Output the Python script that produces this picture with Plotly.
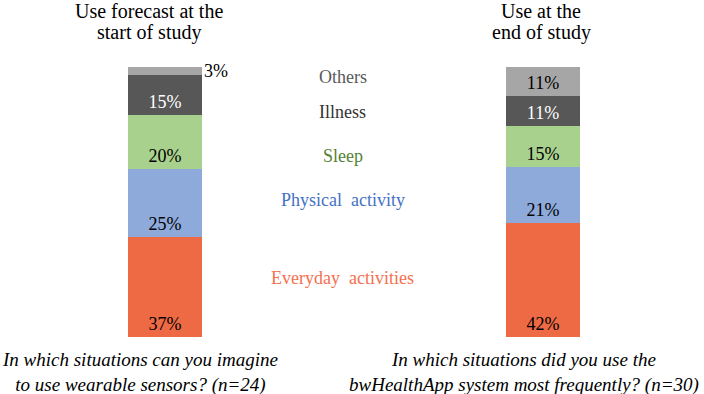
import plotly.graph_objects as go

categories = ["Everyday activities", "Physical activity", "Sleep", "Illness", "Others"]
start_values = [37, 25, 20, 15, 3]
end_values = [42, 21, 15, 11, 11]
bar_titles = [["Use forecast at the", "start of study"], ["Use at the", "end of study"]]
captions = ["In which situations can you imagine<br>to use wearable sensors? (n=24)",
            "In which situations did you use the<br>bwHealthApp system most frequently? (n=30)"]

bar_colors = ["#EE6A45", "#8EAADB", "#A9D18E", "#575757", "#A6A6A6"]
label_colors = ["#F4704F", "#4472C4", "#548235", "#333333", "#595959"]
pct_colors = ["black", "black", "black", "white", "black"]
FONT = "Liberation Serif"

fig = go.Figure()
for i, cat in enumerate(categories):
    vals = [start_values[i], end_values[i]]
    texts = [f"{v}%" if v >= 5 else "" for v in vals]
    fig.add_trace(go.Bar(
        x=[0, 1], y=vals, name=cat, width=0.196,
        marker=dict(color=bar_colors[i], line=dict(width=0)),
        text=texts, textposition="inside", insidetextanchor="start",
        textangle=0, constraintext="none",
        textfont=dict(family=FONT, size=18, color=pct_colors[i]),
        showlegend=False, hoverinfo="skip",
    ))

# small value label outside the left bar
for i, v in enumerate(start_values):
    if v < 5:
        base = sum(start_values[:i])
        fig.add_annotation(x=0.098, y=base + v / 2, xref="x", yref="y",
                           text=f"{v}%", showarrow=False, xanchor="left", yanchor="middle",
                           font=dict(family=FONT, size=18, color="black"))

# category labels in the middle
label_y_px = [278, 200, 156, 112, 77]
for i, cat in enumerate(categories):
    fig.add_annotation(x=0.47, y=1 - label_y_px[i] / 394, xref="x", yref="paper",
                       text=cat.replace(" ", "&nbsp;&nbsp;"), showarrow=False,
                       xanchor="center", yanchor="middle",
                       font=dict(family=FONT, size=18, color=label_colors[i]))

# titles (two lines each, tighter spacing)
title_x_px = [149, 541]
title_y_px = [11, 33]
for j, lines in enumerate(bar_titles):
    for k, line in enumerate(lines):
        fig.add_annotation(x=title_x_px[j] / 704, y=1 - title_y_px[k] / 394,
                           xref="paper", yref="paper", text=line,
                           showarrow=False, xanchor="center", yanchor="middle",
                           font=dict(family=FONT, size=20, color="black"))

# captions
cap_x_px = [140, 524]
for j, c in enumerate(captions):
    fig.add_annotation(x=cap_x_px[j] / 704, y=1 - 372 / 394, xref="paper", yref="paper",
                       text=f"<i>{c}</i>", showarrow=False, xanchor="center", yanchor="middle",
                       font=dict(family=FONT, size=19, color="black"))

fig.update_layout(
    barmode="stack", width=704, height=394,
    margin=dict(l=0, r=0, t=0, b=0),
    paper_bgcolor="white", plot_bgcolor="white",
    xaxis=dict(range=[-0.4365, 1.426], visible=False, fixedrange=True),
    yaxis=dict(range=[-21.07, 124.6], visible=False, fixedrange=True),
    bargap=0,
)
fig.write_html("out.html")
